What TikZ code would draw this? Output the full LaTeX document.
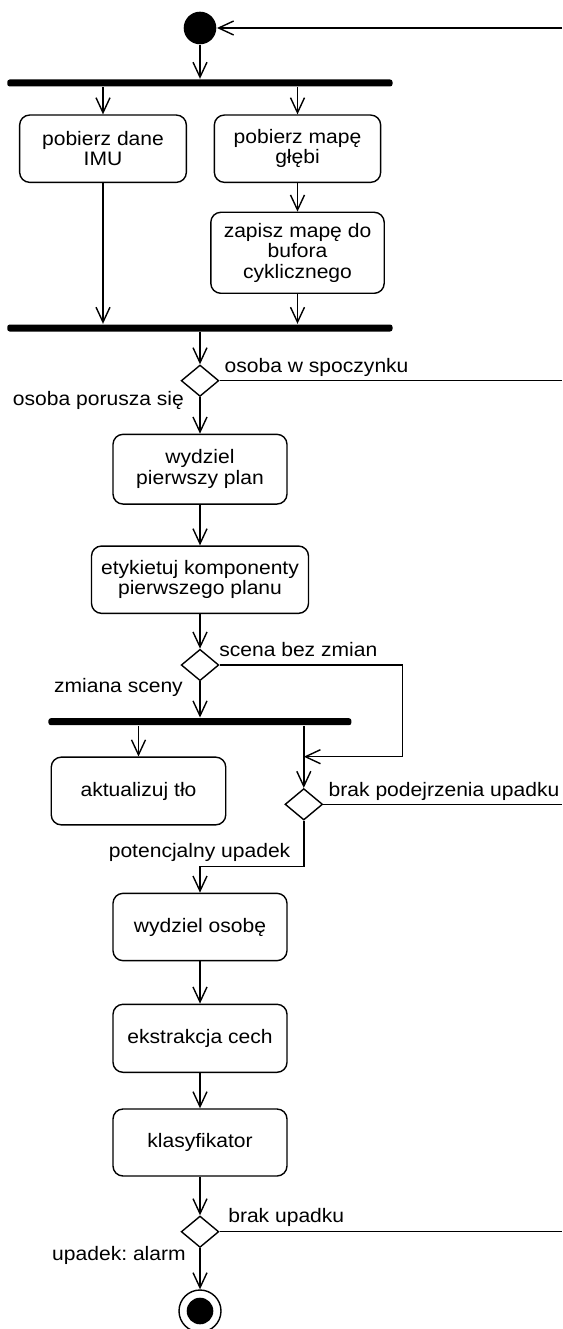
\documentclass[tikz,border=0pt]{standalone}
\usepackage{fontspec}
\setmainfont{Liberation Sans}[FakeStretch=1.08]
\usetikzlibrary{shapes.geometric,arrows.meta}
\frenchspacing
\begin{document}
\begin{tikzpicture}[x=1pt,y=-1pt,
  font=\fontsize{19.5}{20.5}\selectfont,
  line width=1.4pt,
  actbox/.style={draw,rounded corners=10pt,align=center,inner sep=2pt},
  bar/.style={fill=black,rounded corners=2.5pt,minimum height=7pt,inner sep=0pt},
  decis/.style={draw,diamond,minimum width=37.6pt,minimum height=31.4pt,inner sep=0pt},
  arr/.style={-{Straight Barb[length=15pt,width=14pt,line width=1.4pt]}},
  lbl/.style={inner sep=0pt}]
\useasboundingbox (0,0) rectangle (562,1329);
% nodes
\node[circle,fill=black,minimum size=32.6pt,inner sep=0pt] (init) at (200,28) {};
\node[bar,minimum width=385.3pt] (bar1) at (199.9,83) {};
\node[actbox,minimum width=166.7pt,minimum height=67.3pt] (box1) at (103,148.7) {pobierz dane\\IMU};
\node[actbox,minimum width=166.3pt,minimum height=67.3pt] (box2) at (297.5,148.7) {pobierz mapę\\głębi};
\node[actbox,minimum width=173.4pt,minimum height=81pt] (box3) at (297.5,252.8) {zapisz mapę do\\bufora\\cyklicznego};
\node[bar,minimum width=385.3pt] (bar2) at (199.9,328) {};
\node[decis] (d1) at (200,380.7) {};
\node[actbox,minimum width=174pt,minimum height=69.7pt] (box4) at (200,469.2) {wydziel\\pierwszy plan};
\node[actbox,minimum width=217pt,minimum height=67.3pt] (box5) at (200,579.7) {etykietuj komponenty\\pierwszego planu};
\node[decis] (d2) at (200,665) {};
\node[bar,minimum width=303pt] (bar3) at (199.9,721.7) {};
\node[actbox,minimum width=174.5pt,minimum height=67.7pt] (box6) at (138.5,791) {aktualizuj tło};
\node[decis] (d3) at (303.8,804.3) {};
\node[actbox,minimum width=174pt,minimum height=67.3pt] (box7) at (200,927) {wydziel osobę};
\node[actbox,minimum width=174pt,minimum height=68pt] (box8) at (200,1038.3) {ekstrakcja cech};
\node[actbox,minimum width=174pt,minimum height=67pt] (box9) at (200,1142.5) {klasyfikator};
\node[decis] (d4) at (200,1231.7) {};
\node[circle,draw,minimum size=42pt,inner sep=0pt] (final) at (200,1311) {};
\fill (final.center) circle (13.3pt);
% coordinates
\coordinate (e0) at (562,28);
\coordinate (e1) at (562,380.7);
\coordinate (e3) at (562,804.3);
\coordinate (e4) at (562,1231.7);
\coordinate (lp) at (402.2,756.7);
\coordinate (k) at (200,866.7);
% labels
\node[lbl,anchor=base west] (l1) at (224,372.7) {osoba w spoczynku};
\node[lbl,anchor=base east] (l2) at (184.6,405) {osoba porusza się};
\node[lbl,anchor=base west] (l3) at (218.6,656.7) {scena bez zmian};
\node[lbl,anchor=base east] (l4) at (183.5,692.7) {zmiana sceny};
\node[lbl,anchor=base west] (l5) at (328,796.7) {brak podejrzenia upadku};
\node[lbl,anchor=base east] (l6) at (291,857.3) {potencjalny upadek};
\node[lbl,anchor=base west] (l7) at (227.6,1222.7) {brak upadku};
\node[lbl,anchor=base east] (l8) at (186.4,1260) {upadek: alarm};
% connectors
\draw[arr] (e0) -- (init);
\draw[arr] (init) -- (init |- bar1.north);
\draw[arr] (box1 |- bar1.south) -- (box1);
\draw[arr] (box2 |- bar1.south) -- (box2);
\draw[arr] (box2) -- (box3);
\draw[arr] (box1) -- (box1 |- bar2.north);
\draw[arr] (box3) -- (box3 |- bar2.north);
\draw[arr] (d1 |- bar2.south) -- (d1);
\draw (d1.east) -- (e1);
\draw[arr] (d1) -- (box4);
\draw[arr] (box4) -- (box5);
\draw[arr] (box5) -- (d2);
\draw[arr] (d2.east) -| (lp) -- (lp -| d3);
\draw[arr] (d2) -- (d2 |- bar3.north);
\draw[arr] (box6 |- bar3.south) -- (box6);
\draw[arr] (d3 |- bar3.south) -- (d3);
\draw (d3.east) -- (e3);
\draw[arr] (d3.south) |- (k) -- (box7);
\draw[arr] (box7) -- (box8);
\draw[arr] (box8) -- (box9);
\draw[arr] (box9) -- (d4);
\draw (d4.east) -- (e4);
\draw[arr] (d4) -- (final);
\end{tikzpicture}
\end{document}
